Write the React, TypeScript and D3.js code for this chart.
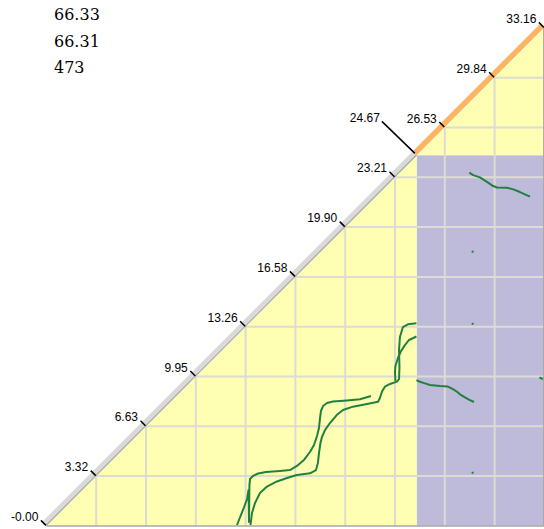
import React from "react";
import * as d3 from "d3";

type Pt = [number, number];

const totalLength = 33.16;
const boundary = 24.67;
const tickValues = [0, 3.316, 6.632, 9.948, 13.264, 16.58, 19.896, 23.212, 26.528, 29.844, 33.16];
const tickLabels = ["-0.00", "3.32", "6.63", "9.95", "13.26", "16.58", "19.90", "23.21", "26.53", "29.84", "33.16"];
const boundaryLabel = "24.67";
const headerLines = ["66.33", "66.31", "473"];

const curveA: Pt[] = [
  [12.69, 0.06], [13.09, 1.06], [13.36, 1.79], [13.46, 2.39], [13.49, 0.26], [13.52, 2.72],
  [13.56, 3.12], [13.75, 3.32], [14.09, 3.49], [14.62, 3.59], [15.55, 3.66], [16.22, 3.72],
  [16.68, 3.99], [17.15, 4.39], [17.55, 4.92], [17.82, 5.39], [18.02, 5.99], [18.15, 6.52],
  [18.22, 7.18], [18.28, 7.65], [18.42, 7.98], [18.68, 8.18], [19.08, 8.28], [20.01, 8.35],
  [20.88, 8.43], [21.28, 8.55], [21.61, 8.65],
];
const curveB: Pt[] = [
  [13.59, 0.06], [13.69, 0.86], [13.89, 1.52], [14.22, 2.19], [14.69, 2.62], [15.35, 2.96],
  [16.02, 3.19], [16.68, 3.39], [17.55, 3.5], [17.95, 3.72], [18.08, 4.19], [18.15, 4.85],
  [18.25, 5.52], [18.35, 5.92], [18.55, 6.38], [18.88, 6.85], [19.33, 7.38], [19.75, 7.72],
  [20.41, 7.94], [21.35, 8.12], [22.08, 8.27], [22.21, 8.52], [22.34, 8.93], [22.54, 9.27],
  [22.88, 9.45], [23.34, 9.61], [23.48, 9.78], [23.51, 10.58], [23.48, 11.71], [23.54, 12.58],
  [23.74, 13.24], [24.07, 13.42], [24.64, 13.49],
];
const curveC: Pt[] = [
  [23.24, 9.65], [23.21, 10.25], [23.24, 10.65], [23.41, 11.18], [23.61, 11.64],
  [23.87, 12.04], [24.15, 12.38], [24.64, 12.61],
];
const interTop: Pt[] = [
  [28.16, 23.52], [28.42, 23.36], [28.87, 23.21], [29.31, 22.92], [29.75, 22.63], [30.0, 22.53],
  [30.67, 22.52], [31.09, 22.41], [31.53, 22.23], [32.2, 21.92],
];
const interMid: Pt[] = [
  [24.64, 9.71], [24.87, 9.6], [25.21, 9.49], [25.54, 9.38], [26.21, 9.31], [26.74, 9.28],
  [27.07, 9.11], [27.34, 8.93], [27.54, 8.76], [27.87, 8.56], [28.2, 8.38], [28.47, 8.25],
];
const interRight: Pt[] = [[32.83, 9.88], [33.06, 9.78]];
const dots: Pt[] = [[28.38, 18.26], [28.38, 13.46], [28.38, 3.54]];

const W = 544;
const H = 529;
const originX = 46.4;
const originY = 525.9;
const span = 498;

export default function App() {
  const s = d3.scaleLinear().domain([0, totalLength]).range([0, span]);
  const X = (v: number) => originX + s(v);
  const Y = (v: number) => originY - s(v);
  const line = d3.line<Pt>().x((d) => X(d[0])).y((d) => Y(d[1]));
  const poly = (pts: Pt[]) => pts.map((p) => `${X(p[0])},${Y(p[1])}`).join(" ");

  const green = "#22803f";
  const gridColor = "#dcdcd4";
  const off = -2.2;

  const gridTicks = tickValues.filter((t) => t > 0.01 && t < totalLength - 0.01);

  return (
    <svg width={W} height={H} style={{ position: "absolute", left: 0, top: 0 }}>
      <polygon points={poly([[0, 0], [boundary, boundary], [boundary, 0]])} fill="#ffffb3" />
      <polygon points={poly([[boundary, boundary], [totalLength, totalLength], [totalLength, boundary]])} fill="#ffffb3" />
      <rect x={X(boundary)} y={Y(boundary)} width={X(totalLength) - X(boundary)} height={Y(0) - Y(boundary)} fill="#bebada" />
      {gridTicks.map((t, i) => (
        <g key={"g" + i}>
          <line x1={X(t)} x2={X(t)} y1={Y(0)} y2={Y(t)} stroke={gridColor} strokeWidth={2} />
          <line x1={X(t)} x2={X(totalLength)} y1={Y(t)} y2={Y(t)} stroke={gridColor} strokeWidth={2} />
        </g>
      ))}
      <line x1={X(0)} x2={X(totalLength)} y1={Y(0)} y2={Y(0)} stroke="#a8a8a8" strokeWidth={1.5} />
      <line x1={X(totalLength) - 0.8} x2={X(totalLength) - 0.8} y1={Y(0)} y2={Y(totalLength)} stroke="#a8a8a8" strokeWidth={1} />
      {[curveA, curveB, curveC, interTop, interMid, interRight].map((c, i) => (
        <path key={"c" + i} d={line(c) || ""} fill="none" stroke={green} strokeWidth={2} strokeLinejoin="round" />
      ))}
      {dots.map((d, i) => (
        <rect key={"d" + i} x={X(d[0]) - 1} y={Y(d[1]) - 1} width={2} height={2} fill={green} />
      ))}
      <line x1={X(0) + off} y1={Y(0) + off} x2={X(boundary) + off} y2={Y(boundary) + off} stroke="#d9d9d9" strokeWidth={5.5} />
      <line x1={X(0) - 0.4} y1={Y(0) - 0.4} x2={X(boundary) - 0.4} y2={Y(boundary) - 0.4} stroke="#a8a8a8" strokeWidth={1.2} />
      <line x1={X(boundary) + off} y1={Y(boundary) + off} x2={X(totalLength) + off} y2={Y(totalLength) + off} stroke="#fdb462" strokeWidth={5.5} />
      {tickValues.map((t, i) => (
        <g key={"t" + i}>
          <line x1={X(t) - 0.5} y1={Y(t) - 0.5} x2={X(t) - 5.5} y2={Y(t) - 5.5} stroke="#000" strokeWidth={1.5} />
          <text x={X(t) - 8} y={Y(t) - 5} textAnchor="end" fontFamily="'Liberation Sans', Arial, sans-serif" fontSize={12} fill="#000">
            {tickLabels[i]}
          </text>
        </g>
      ))}
      <line x1={X(boundary) - 2} y1={Y(boundary) - 2} x2={X(boundary) - 35} y2={Y(boundary) - 34} stroke="#000" strokeWidth={1.5} />
      <text x={X(boundary) - 37} y={Y(boundary) - 33.5} textAnchor="end" fontFamily="'Liberation Sans', Arial, sans-serif" fontSize={12} fill="#000">
        {boundaryLabel}
      </text>
      {headerLines.map((h, i) => (
        <text key={"h" + i} x={54} y={20 + i * 26.5} fontFamily="'DejaVu Serif', serif" fontSize={16} fill="#000">
          {h}
        </text>
      ))}
    </svg>
  );
}
